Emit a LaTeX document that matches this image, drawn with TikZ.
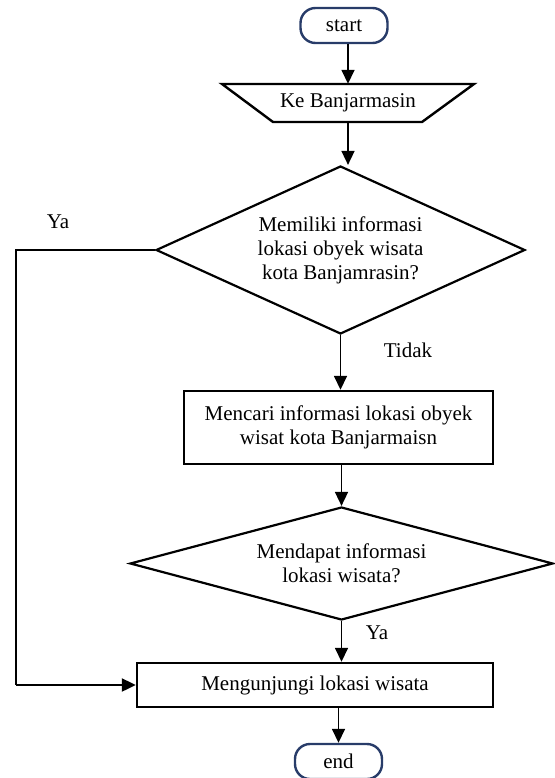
\documentclass[tikz,border=0pt]{standalone}
\usepackage{fontspec}
\setmainfont{Liberation Serif}
\usetikzlibrary{shapes.geometric,arrows.meta}
\definecolor{termblue}{RGB}{40,60,105}
\tikzset{
  txt/.style={font=\fontsize{21}{24}\selectfont, text=black},
  term/.style={txt, draw=termblue, line width=2.4pt, rounded corners=15pt, minimum width=87pt, minimum height=35pt, inner sep=0pt},
  procbox/.style={txt, draw=black, line width=2.4pt, align=center, inner sep=0pt},
  decide/.style={txt, draw=black, line width=2.2pt, diamond, align=center, inner sep=0pt},
  arr/.style={line width=1.6pt, -{Triangle[length=14pt,width=13pt]}},
  plain/.style={line width=2.2pt},
  lbl/.style={txt}
}
\begin{document}
\begin{tikzpicture}[x=1pt,y=-1pt]
\useasboundingbox (0,0) rectangle (554,778);
% terminals
\node[term] (start) at (344,25.5) {start};
\node[term] (end) at (338.5,761.5) {end};
% input trapezoid
\draw[line width=2.4pt] (222,84) -- (474,84) -- (422,122) -- (273,122) -- cycle;
\node[txt, minimum width=149pt, minimum height=38pt, inner sep=0pt] (ke) at (348,103) {Ke Banjarmasin};
% decisions
\node[decide, minimum width=369pt, minimum height=168pt, aspect=2.2] (d1) at (340.5,250) {Memiliki informasi\\lokasi obyek wisata\\kota Banjamrasin?};
\node[decide, minimum width=423pt, minimum height=113pt, aspect=3.74] (d2) at (341.5,563.5) {Mendapat informasi\\lokasi wisata?};
% processes
\node[procbox, minimum width=309pt, minimum height=73pt] (r2) at (338.5,427.5) {Mencari informasi lokasi obyek\\wisat kota Banjarmaisn};
\node[procbox, minimum width=356pt, minimum height=44pt] (r3) at (315,685) {Mengunjungi lokasi wisata};
% labels
\node[lbl] (ya1) at (58,222) {Ya};
\node[lbl] (tidak) at (408,350) {Tidak};
\node[lbl] (ya2) at (377,633) {Ya};
\coordinate (lft) at (16,0);
% connectors
\draw[arr] (start.south -| ke.north) -- (ke.north);
\draw[arr] (ke.south) -- (ke.south |- d1.north);
\draw[arr] (d1.south) -- (d1.south |- r2.north);
\draw[arr] (d2.north |- r2.south) -- (d2.north);
\draw[arr] (d2.south) -- (d2.south |- r3.north);
\draw[arr] (end.north |- r3.south) -- (end.north);
\draw[plain] (d1.west) -- (d1.west -| lft) -- (lft |- r3.west);
\draw[arr, line width=2.2pt] (lft |- r3.west) -- (r3.west);
\end{tikzpicture}
\end{document}
